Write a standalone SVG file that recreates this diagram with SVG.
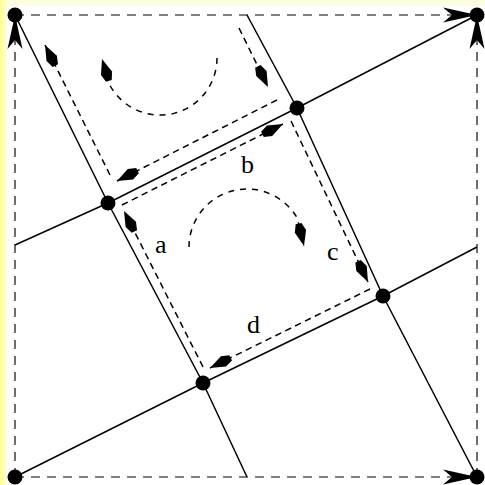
<svg xmlns="http://www.w3.org/2000/svg" width="485" height="485" viewBox="0 0 485 485">
<defs>
<linearGradient id="lg" x1="0" x2="1" y1="0" y2="0"><stop offset="0" stop-color="#ffff90"/><stop offset="1" stop-color="#ffffc8"/></linearGradient>
<marker id="barb" markerUnits="userSpaceOnUse" orient="auto" markerWidth="40" markerHeight="20" viewBox="-36 -10 40 20" refX="0" refY="0" overflow="visible"><path d="M0,0 L-34,-7.5 L-25,0 L-34,7.5 Z" fill="#000"/></marker>
<marker id="kite" markerUnits="userSpaceOnUse" orient="auto" markerWidth="26" markerHeight="14" viewBox="-25 -7 26 14" refX="0" refY="0" overflow="visible"><path d="M0,0 L-15,-5.8 L-23,-3 L-23,3 L-15,5.8 Z" fill="#000"/></marker>
</defs>
<style>
.sol{fill:none;stroke:#000;stroke-width:1.5}
.dsh{fill:none;stroke:#000;stroke-width:1.5;stroke-dasharray:6.5 4.5;marker-end:url(#kite)}
.arc{fill:none;stroke:#000;stroke-width:1.5;stroke-dasharray:6 6;marker-end:url(#kite)}
.bord{fill:none;stroke:#555;stroke-width:1.7;stroke-dasharray:9 7;marker-end:url(#barb)}
.dot{fill:#000}
.lbl{font-family:"Liberation Serif","Times New Roman",serif;font-size:26px;fill:#000}
</style>
<rect x="0" y="0" width="485" height="485" fill="#fdfde0"/>
<rect x="0" y="0" width="7" height="485" fill="url(#lg)"/>
<rect x="7" y="6" width="478" height="479" fill="#fff"/>
<g id="connectors">
<path class="bord" d="M15 15 L477 15"/>
<path class="bord" d="M15 477 L477 477"/>
<path class="bord" d="M15 477 L15 15"/>
<path class="bord" d="M477 477 L477 15"/>
<polyline class="sol" points="15,15 108,203 203,383 247,477"/>
<polyline class="sol" points="247,15 297,108 383,296 477,477"/>
<polyline class="sol" points="15,245 108,203 297,108 477,15"/>
<polyline class="sol" points="15,477 203,383 383,296 477,247"/>
<path class="dsh" d="M203 367 L124 211"/>
<path class="dsh" d="M122 205 L283 124"/>
<path class="dsh" d="M291 121 L368 282"/>
<path class="dsh" d="M370 289 L210 368"/>
<path class="dsh" d="M277 100 L117 181"/>
<path class="dsh" d="M110 175 L45 45"/>
<path class="dsh" d="M239 28 L268 87"/>
<path class="arc" d="M217 58 A57 57 0 0 1 110.6 86.5 L102 59"/>
<path class="arc" d="M189 247 A58 58 0 0 1 297.2 218 L304 246"/>
</g>
<g id="n1"><circle class="dot" cx="15" cy="15" r="7.5"/></g>
<g id="n2"><circle class="dot" cx="477" cy="15" r="7.5"/></g>
<g id="n3"><circle class="dot" cx="15" cy="477" r="7.5"/></g>
<g id="n4"><circle class="dot" cx="477" cy="477" r="7.5"/></g>
<g id="n5"><circle class="dot" cx="108" cy="203" r="7.5"/></g>
<g id="n6"><circle class="dot" cx="297" cy="108" r="7.5"/></g>
<g id="n7"><circle class="dot" cx="383" cy="296" r="7.5"/></g>
<g id="n8"><circle class="dot" cx="203" cy="383" r="7.5"/></g>
<g id="labels">
<text class="lbl" x="155" y="253">a</text>
<text class="lbl" x="241" y="173">b</text>
<text class="lbl" x="327" y="260">c</text>
<text class="lbl" x="247" y="333">d</text>
</g>
</svg>
